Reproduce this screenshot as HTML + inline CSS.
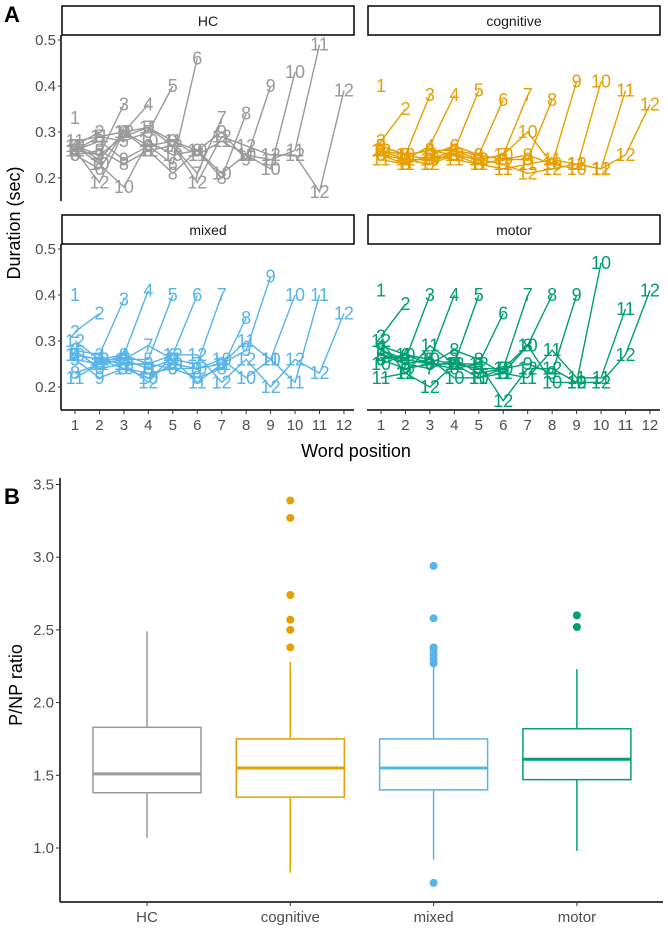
<!DOCTYPE html>
<html><head><meta charset="utf-8"><style>
body{margin:0;background:#fff;}
svg{display:block;font-family:"Liberation Sans",sans-serif;}
</style></head><body>
<svg id="fig" width="668" height="930" viewBox="0 0 668 930">
<text x="4" y="22" font-size="22" font-weight="bold">A</text>
<text x="4" y="504" font-size="22" font-weight="bold">B</text>
<text transform="translate(20,223) rotate(-90)" text-anchor="middle" font-size="18">Duration (sec)</text>
<text x="356" y="457" text-anchor="middle" font-size="18">Word position</text>
<text transform="translate(22,685) rotate(-90)" text-anchor="middle" font-size="18">P/NP ratio</text>
<g id="pa"></g><g id="pb"></g>
</svg>
<script>
const groups=["HC","cognitive","mixed","motor"];
const colors=["#999999","#E69F00","#56B4E9","#009E73"];
const yTicksA=[0.2,0.3,0.4,0.5];
const xTicksA=[1,2,3,4,5,6,7,8,9,10,11,12];
const durHC=[[0.33],[0.27,0.30],[0.26,0.25,0.36],[0.27,0.24,0.30,0.36],[0.26,0.29,0.28,0.30,0.40],[0.25,0.22,0.30,0.27,0.23,0.46],[0.27,0.25,0.29,0.31,0.27,0.21,0.33],[0.25,0.26,0.23,0.26,0.21,0.26,0.20,0.34],[0.26,0.28,0.24,0.27,0.28,0.26,0.30,0.24,0.40],[0.27,0.23,0.18,0.28,0.25,0.26,0.21,0.25,0.22,0.43],[0.28,0.29,0.30,0.31,0.28,0.25,0.28,0.25,0.24,0.26,0.49],[0.26,0.19,0.30,0.26,0.27,0.19,0.29,0.27,0.25,0.25,0.17,0.39]];
const durCog=[[0.40],[0.28,0.35],[0.27,0.25,0.38],[0.26,0.24,0.27,0.38],[0.27,0.25,0.26,0.26,0.39],[0.25,0.23,0.25,0.27,0.25,0.37],[0.26,0.24,0.24,0.26,0.24,0.25,0.38],[0.27,0.25,0.26,0.25,0.23,0.24,0.24,0.37],[0.25,0.24,0.23,0.26,0.25,0.24,0.25,0.23,0.41],[0.26,0.25,0.24,0.25,0.24,0.25,0.30,0.23,0.22,0.41],[0.24,0.23,0.25,0.24,0.23,0.22,0.23,0.24,0.23,0.22,0.39],[0.26,0.24,0.23,0.25,0.24,0.23,0.21,0.22,0.23,0.22,0.25,0.36]];
const durMix=[[0.40],[0.32,0.36],[0.28,0.27,0.39],[0.27,0.26,0.27,0.41],[0.26,0.25,0.26,0.26,0.40],[0.28,0.24,0.25,0.25,0.27,0.40],[0.27,0.26,0.26,0.29,0.26,0.25,0.40],[0.23,0.25,0.27,0.25,0.24,0.22,0.24,0.35],[0.26,0.22,0.24,0.23,0.24,0.24,0.25,0.28,0.44],[0.27,0.26,0.24,0.22,0.25,0.24,0.26,0.22,0.26,0.40],[0.22,0.25,0.26,0.24,0.26,0.21,0.25,0.30,0.26,0.21,0.40],[0.30,0.26,0.25,0.21,0.27,0.27,0.21,0.26,0.20,0.26,0.23,0.36]];
const durMot=[[0.41],[0.31,0.38],[0.28,0.26,0.40],[0.29,0.27,0.26,0.40],[0.27,0.25,0.26,0.25,0.40],[0.26,0.27,0.25,0.24,0.25,0.36],[0.28,0.25,0.24,0.26,0.23,0.24,0.40],[0.27,0.26,0.25,0.28,0.26,0.23,0.29,0.40],[0.26,0.24,0.25,0.25,0.24,0.24,0.25,0.23,0.40],[0.25,0.27,0.26,0.22,0.22,0.24,0.29,0.21,0.21,0.47],[0.22,0.23,0.29,0.25,0.22,0.23,0.22,0.28,0.22,0.22,0.37],[0.30,0.23,0.20,0.25,0.25,0.17,0.24,0.24,0.21,0.21,0.27,0.41]];
const durAll=[durHC,durCog,durMix,durMot];
// Panel B
const yTicksB=[1.0,1.5,2.0,2.5,3.0,3.5];
const q1=[1.38,1.35,1.40,1.47];
const med=[1.51,1.55,1.55,1.61];
const q3=[1.83,1.75,1.75,1.82];
const wLo=[1.07,0.83,0.92,0.98];
const wHi=[2.49,2.28,2.26,2.23];
const outHC=[];
const outCog=[3.39,3.27,2.74,2.57,2.50,2.38];
const outMix=[2.94,2.58,2.38,2.36,2.33,2.30,2.27,0.76];
const outMot=[2.60,2.52];
const outAll=[outHC,outCog,outMix,outMot];

const NS="http://www.w3.org/2000/svg";
function mk(parent,tag,attrs){const e=document.createElementNS(NS,tag);for(const k in attrs)e.setAttribute(k,attrs[k]);parent.appendChild(e);return e;}
const pa=document.getElementById('pa');
const panels=[{x0:62,top:5},{x0:368,top:5},{x0:62,top:214},{x0:368,top:214}];
const PW=292;
panels.forEach((p,gi)=>{
  const g=mk(pa,'g',{});
  
  
  const sy=v=>p.top+35+(0.5-v)*460;
  const sx=v=>p.x0+13+(v-1)*24.45;
  const strip=mk(g,'rect',{x:p.x0,y:p.top+1,width:PW,height:29,fill:'#fff',stroke:'#000','stroke-width':1.5});
  
  
  const st=mk(g,'text',{x:p.x0+PW/2,y:p.top+21,'text-anchor':'middle','font-size':14,fill:'#1a1a1a'});
  st.textContent=groups[gi];
  
  
  const bottom=p.top+196;
  if(gi%2===0){
    mk(g,'line',{x1:p.x0-1,x2:p.x0-1,y1:p.top+30,y2:bottom,stroke:'#000','stroke-width':1.5});
    yTicksA.forEach(t=>{
      mk(g,'line',{x1:p.x0-4,x2:p.x0-1,y1:sy(t),y2:sy(t),stroke:'#333'});
      const tl=mk(g,'text',{x:p.x0-6,y:sy(t)+5,'text-anchor':'end','font-size':15,fill:'#4d4d4d'});
      tl.textContent=t.toFixed(1);
      
      
    });
  }
  if(gi>=2){
    mk(g,'line',{x1:p.x0-1,x2:p.x0+PW,y1:bottom,y2:bottom,stroke:'#000','stroke-width':1.5});
    xTicksA.forEach(t=>{
      mk(g,'line',{x1:sx(t),x2:sx(t),y1:bottom,y2:bottom+4,stroke:'#333'});
      const tl=mk(g,'text',{x:sx(t),y:bottom+20,'text-anchor':'middle','font-size':15,fill:'#4d4d4d'});
      tl.textContent=t;
      
      
    });
  }
  durAll[gi].forEach((ser,si)=>{
    const pts=ser.map((v,i)=>sx(i+1)+','+sy(v)).join(' ');
    const pl=mk(g,'polyline',{points:pts,fill:'none',stroke:colors[gi],'stroke-width':1.4});
    
    
    ser.forEach((v,i)=>{
      const t=mk(g,'text',{x:sx(i+1),y:sy(v)+6,'text-anchor':'middle','font-size':18,fill:colors[gi]});
      t.textContent=ser.length;
      
      
    });
  });
});
// Panel B
const pb=document.getElementById('pb');
const by=v=>848-(v-1.0)*145.4;
const bx=i=>147+i*143.3;
mk(pb,'line',{x1:60,x2:60,y1:478,y2:902,stroke:'#000','stroke-width':1.5});
mk(pb,'line',{x1:60,x2:663,y1:902,y2:902,stroke:'#000','stroke-width':1.5});
yTicksB.forEach(t=>{
  mk(pb,'line',{x1:56,x2:60,y1:by(t),y2:by(t),stroke:'#333'});
  const tl=mk(pb,'text',{x:54,y:by(t)+5,'text-anchor':'end','font-size':15,fill:'#4d4d4d'});
  tl.textContent=t.toFixed(1);
  
  
});
groups.forEach((gname,i)=>{
  const g=mk(pb,'g',{});
  
  
  const c=colors[i],x=bx(i);
  mk(g,'line',{x1:x,x2:x,y1:by(q3[i]),y2:by(wHi[i]),stroke:c,'stroke-width':1.5});
  mk(g,'line',{x1:x,x2:x,y1:by(q1[i]),y2:by(wLo[i]),stroke:c,'stroke-width':1.5});
  mk(g,'rect',{x:x-54,y:by(q3[i]),width:108,height:by(q1[i])-by(q3[i]),fill:'#fff',stroke:c,'stroke-width':1.5});
  mk(g,'line',{x1:x-54,x2:x+54,y1:by(med[i]),y2:by(med[i]),stroke:c,'stroke-width':3});
  outAll[i].forEach(v=>{
    const o=mk(g,'circle',{cx:x,cy:by(v),r:4,fill:c});
    
    
  });
  mk(pb,'line',{x1:x,x2:x,y1:902,y2:906,stroke:'#333'});
  const tl=mk(pb,'text',{x:x,y:922,'text-anchor':'middle','font-size':15,fill:'#4d4d4d'});
  tl.textContent=gname;
  
  
});
</script>
</body></html>
